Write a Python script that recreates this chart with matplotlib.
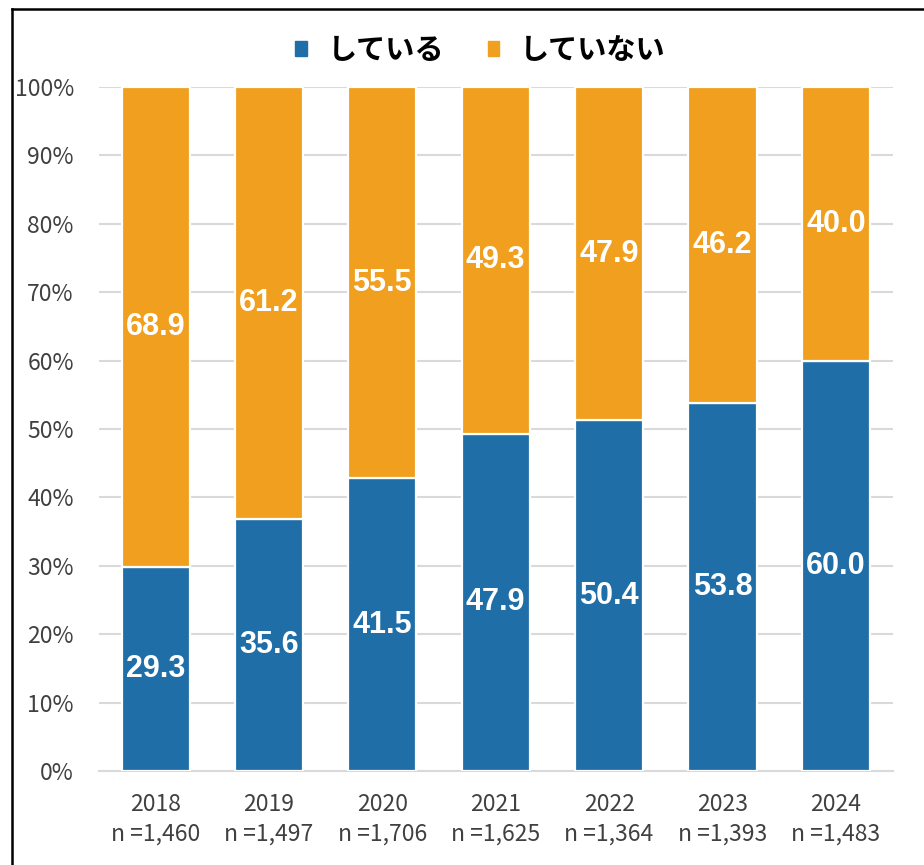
import matplotlib
matplotlib.use('Agg')
import matplotlib.pyplot as plt
from matplotlib.lines import Line2D
from matplotlib.patches import Patch
import numpy as np

plt.rcParams['font.family'] = ['Noto Sans CJK JP', 'DejaVu Sans']

years = ['2018', '2019', '2020', '2021', '2022', '2023', '2024']
n_counts = ['1,460', '1,497', '1,706', '1,625', '1,364', '1,393', '1,483']
doing = [29.3, 35.6, 41.5, 47.9, 50.4, 53.8, 60.0]
not_doing = [68.9, 61.2, 55.5, 49.3, 47.9, 46.2, 40.0]
series_names = ['している', 'していない']

blue = '#1F6EA8'
orange = '#F09F1E'

doing = np.array(doing)
not_doing = np.array(not_doing)
total = doing + not_doing
doing_pct = doing / total * 100
not_pct = not_doing / total * 100

fig = plt.figure(figsize=(9.24, 8.65), dpi=100)
ax = fig.add_axes([0.107, 0.1087, 0.859, 0.7907])

x = np.arange(len(years))
ax.bar(x, doing_pct, width=0.6, color=blue, edgecolor='white', linewidth=1.6, zorder=3)
ax.bar(x, not_pct, bottom=doing_pct, width=0.6, color=orange, edgecolor='white', linewidth=1.6, zorder=3)

label_font = dict(family=['Liberation Sans', 'DejaVu Sans'], size=22, weight='bold')
for i in range(len(years)):
    ax.text(x[i], doing_pct[i] / 2, f'{doing[i]:.1f}', ha='center', va='center',
            color='white', fontdict=label_font, zorder=4)
    ax.text(x[i], doing_pct[i] + not_pct[i] / 2, f'{not_doing[i]:.1f}', ha='center', va='center',
            color='white', fontdict=label_font, zorder=4)

ax.set_xlim(-0.5, len(years) - 0.5)
ax.set_ylim(0, 100)
ax.set_yticks(np.arange(0, 101, 10))
ax.set_yticklabels([f'{v}%' for v in range(0, 101, 10)])
ax.set_xticks(x)
ax.set_xticklabels([f'{y}\nn ={n}' for y, n in zip(years, n_counts)], linespacing=1.35)
ax.tick_params(axis='both', length=0, labelsize=16.5, labelcolor='#404040')
ax.tick_params(axis='x', pad=16)
ax.tick_params(axis='y', pad=18)
ax.grid(axis='y', color='#D9D9D9', linewidth=1.5, zorder=0)
for s in ['top', 'right', 'left']:
    ax.spines[s].set_visible(False)
ax.spines['bottom'].set_color('#D9D9D9')
ax.spines['bottom'].set_linewidth(1.5)

handles = [Patch(color=blue), Patch(color=orange)]
leg = fig.legend(handles, series_names, loc='center', bbox_to_anchor=(0.52, 0.942), ncol=2,
                 frameon=False, handlelength=0.4, handleheight=0.4, handletextpad=0.7,
                 columnspacing=1.5, prop={'size': 21, 'weight': 'bold'})

# outer frame (left and top edges visible)
fig.add_artist(Line2D([0.0135, 0.0135], [0, 0.99], transform=fig.transFigure, color='black', linewidth=1.8))
fig.add_artist(Line2D([0.0135, 1.0], [0.99, 0.99], transform=fig.transFigure, color='black', linewidth=1.8))

fig.savefig('out.png', dpi=100)
